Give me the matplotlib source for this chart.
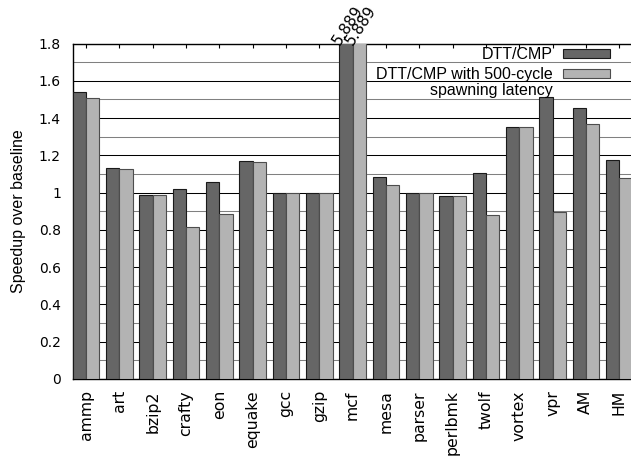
import numpy as np
import matplotlib
matplotlib.use("Agg")
import matplotlib.pyplot as plt
from matplotlib.ticker import MultipleLocator

plt.rcParams['font.family'] = ['Liberation Sans', 'DejaVu Sans']

benchmarks = ["ammp", "art", "bzip2", "crafty", "eon", "equake", "gcc", "gzip",
              "mcf", "mesa", "parser", "perlbmk", "twolf", "vortex", "vpr", "AM", "HM"]
dtt_cmp = [1.54, 1.13, 0.987, 1.018, 1.055, 1.168, 1.0, 1.0,
           5.889, 1.082, 1.0, 0.98, 1.103, 1.354, 1.515, 1.456, 1.175]
dtt_cmp_500 = [1.51, 1.125, 0.987, 0.817, 0.885, 1.162, 1.0, 1.0,
               5.889, 1.039, 1.0, 0.98, 0.88, 1.354, 0.897, 1.368, 1.077]
series_labels = ["DTT/CMP", "DTT/CMP with 500-cycle"]
series_label_extra = "spawning latency"
y_ticks = [0, 0.2, 0.4, 0.6, 0.8, 1.0, 1.2, 1.4, 1.6, 1.8]
y_tick_labels = ["0", "0.2", "0.4", "0.6", "0.8", "1", "1.2", "1.4", "1.6", "1.8"]
y_max = 1.8

tick_font = {"family": "DejaVu Sans"}

fig = plt.figure(figsize=(6.31, 4.57), dpi=100)
ax = fig.add_axes([0.1152, 0.1707, 0.8872, 0.7341])

x = np.arange(len(benchmarks))
w = 0.4
b1 = ax.bar(x - w / 2, dtt_cmp, w, color="#666666", edgecolor="#1a1a1a",
            linewidth=0.8, label=series_labels[0], zorder=3)
b2 = ax.bar(x + w / 2, dtt_cmp_500, w, color="#b3b3b3", edgecolor="#4d4d4d",
            linewidth=0.8, label=series_labels[1], zorder=3)

# values that exceed the axis range are written above the clipped bar
for bars, vals in ((b1, dtt_cmp), (b2, dtt_cmp_500)):
    for rect, v in zip(bars, vals):
        if v > y_max:
            ax.text(rect.get_x() + 0.02, y_max - 0.015, f"{v:.3f}",
                    rotation=57, rotation_mode="anchor", ha="left",
                    va="baseline", fontsize=11, family="DejaVu Sans",
                    clip_on=False, zorder=5)

ax.set_xlim(-0.4, len(benchmarks) - 0.6)
ax.set_ylim(0, y_max)
ax.yaxis.set_minor_locator(MultipleLocator(0.1))
ax.set_yticks(y_ticks)
ax.set_yticklabels(y_tick_labels, fontdict=tick_font)
ax.grid(True, which="major", axis="y", color="black", linewidth=0.75, zorder=0)
ax.grid(True, which="minor", axis="y", color="#808080", linewidth=0.75, zorder=0)
ax.set_axisbelow(True)

ax.set_xticks(x)
ax.set_xticklabels(benchmarks, rotation=90, fontsize=11.3, fontdict=tick_font)
ax.tick_params(axis="x", direction="in", length=3, top=True, bottom=True, pad=8)
ax.tick_params(axis="y", which="both", direction="in", length=0, labelsize=10, pad=8.5)
ax.set_ylabel("Speedup over baseline", fontsize=11.5, labelpad=9)

for side in ("left", "bottom", "top"):
    ax.spines[side].set_linewidth(1.0)
ax.spines["right"].set_visible(False)

leg = ax.legend(loc="upper right", bbox_to_anchor=(0.9598, 0.9896), frameon=False,
                markerfirst=False, fontsize=11.5, handlelength=2.93,
                handleheight=0.46, labelspacing=0.34, handletextpad=0.66,
                borderaxespad=0.0, borderpad=0.0)
for patch in leg.get_patches():
    patch.set_linewidth(0.8)

# continuation line of the second legend label, right-aligned under it
fig.canvas.draw()
bb = leg.get_texts()[1].get_window_extent()
fig.text(bb.x1 / fig.dpi / fig.get_figwidth(),
         (bb.y0 - 1) / fig.dpi / fig.get_figheight(),
         series_label_extra, ha="right", va="top", fontsize=11.5)

fig.savefig("out.png", dpi=100)
